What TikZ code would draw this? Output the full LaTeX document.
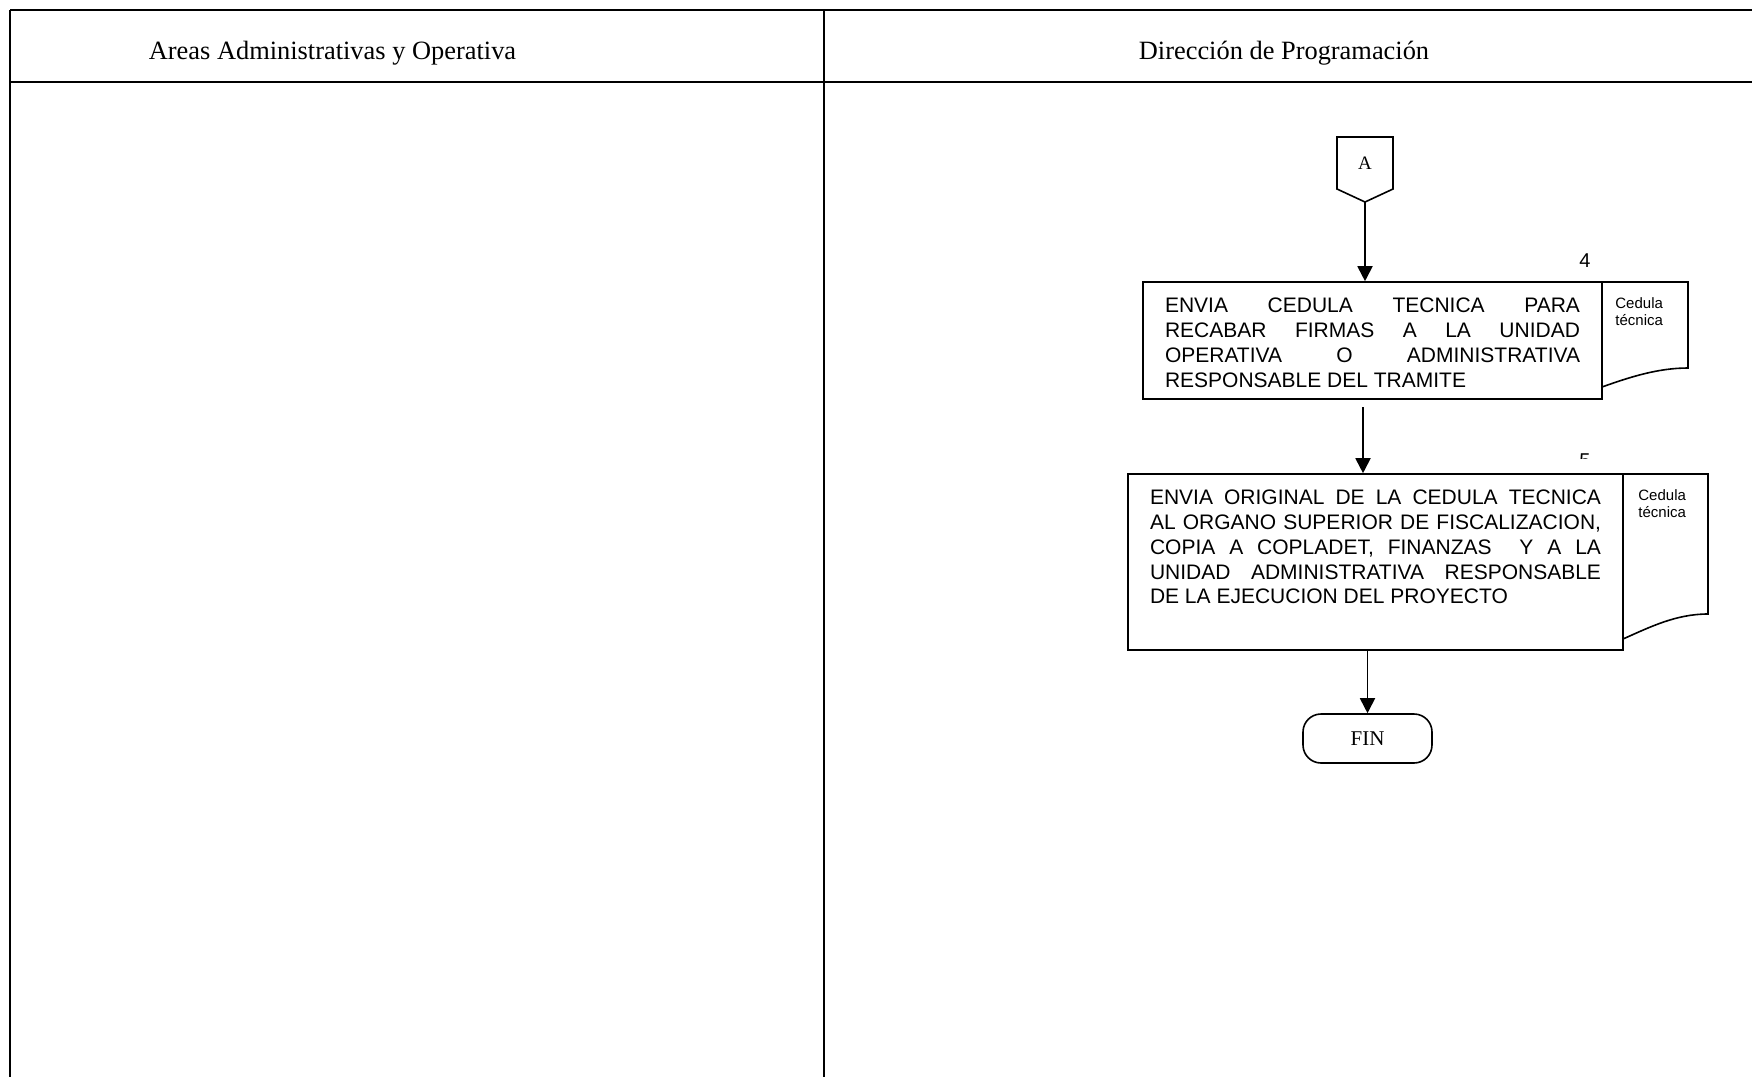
\documentclass[tikz,border=0pt]{standalone}
\usepackage{fontspec}
\setmainfont{Liberation Serif}
\newfontfamily\arialfont{Liberation Sans}
\usetikzlibrary{arrows.meta}
\newcommand{\proctext}[3]{\parbox[c][#1][t]{#2}{\spaceskip=.278em plus 5em\tolerance=10000\hyphenpenalty=10000 #3}}
\tikzset{
	lane/.style={line width=1pt},
	lanetitle/.style={anchor=base, inner sep=0pt, font=\fontsize{13.2}{15}\selectfont},
	procbox/.style={draw, line width=0.8pt, inner xsep=11pt, inner ysep=8pt, font=\arialfont\fontsize{10.5}{12.4}\selectfont},
	docline/.style={line width=0.8pt},
	doctext/.style={anchor=north west, inner sep=0pt, align=left, font=\arialfont\fontsize{7.5}{8.5}\selectfont},
	numlabel/.style={inner sep=0pt, font=\arialfont\fontsize{10}{11}\selectfont},
	terminal/.style={draw, line width=0.8pt, rounded corners=9pt, minimum width=64.5pt, minimum height=24.5pt, inner sep=0pt, font=\fontsize{10.5}{12}\selectfont},
	flowarrow/.style={-{Triangle[length=7.5pt,width=7.5pt]}, line width=0.9pt}
}

\begin{document}
\begin{tikzpicture}[x=0.5pt, y=-0.5pt]
		\useasboundingbox (0,0) rectangle (1752,1077);
		%%%%% LANES %%%%%
		\draw[lane] (10,10) -- (1752,10);
		\draw[lane, line width=1.4pt] (10,82) -- (1752,82);
		\draw[lane] (10,10) -- (10,1077);
		\draw[lane] (824,10) -- (824,1077);
		\node[lanetitle] (areas) at (332.5,59) {Areas Administrativas y Operativa};
		\node[lanetitle] (direccion) at (1284,59) {Dirección de Programación};
		
		%%%%% CONECTOR A %%%%%
		\draw[docline] (1337,137) -- (1393,137) -- (1393,189) -- (1365,202) -- (1337,189) -- cycle;
		\node[inner sep=0pt, font=\fontsize{9.5}{11}\selectfont] (conA) at (1365,163) {A};
		\coordinate (conAtip) at (1365,202);
		
		%%%%% PASO 4 %%%%%
		\node[procbox] (env1) at (1372.5,340.5) {\proctext{42.5pt}{207.5pt}{ENVIA CEDULA TECNICA PARA\linebreak RECABAR FIRMAS A LA UNIDAD\linebreak OPERATIVA O ADMINISTRATIVA\linebreak RESPONSABLE DEL TRAMITE}};
		\draw[docline] (1602,282) -- (1688,282) -- (1688,368) .. controls (1658,368) and (1630,377) .. (1602,387);
		\node[doctext] (cedula1) at (1615,297) {Cedula\\técnica};
		\node[numlabel] (num4) at (1585,261) {4};
		\draw[flowarrow] (conAtip) -- (conAtip |- env1.north);
		
		%%%%% PASO 5 %%%%%
		\node[procbox] (env2) at (1375.5,562) {\proctext{72pt}{225.5pt}{ENVIA ORIGINAL DE LA CEDULA TECNICA\linebreak AL ORGANO SUPERIOR DE FISCALIZACION,\linebreak COPIA A COPLADET, FINANZAS~ Y A LA\linebreak UNIDAD ADMINISTRATIVA RESPONSABLE\linebreak DE LA EJECUCION DEL PROYECTO}};
		\draw[docline] (1623,474) -- (1708,474) -- (1708,614) .. controls (1676,614) and (1650,627) .. (1623,639);
		\node[doctext] (cedula2) at (1638,489) {Cedula\\técnica};
		\begin{scope}
			\clip (1560,440) rectangle (1610,458);
			\node[numlabel] (num5) at (1585,461) {5};
		\end{scope}
		\coordinate (out1) at (1363,407);
		\draw[flowarrow] (out1) -- (out1 |- env2.north);
		
		%%%%% FIN %%%%%
		\node[terminal] (fin) at (1367.5,738.5) {FIN};
		\draw[flowarrow] (fin.north |- env2.south) -- (fin.north);
	\end{tikzpicture}
\end{document}
